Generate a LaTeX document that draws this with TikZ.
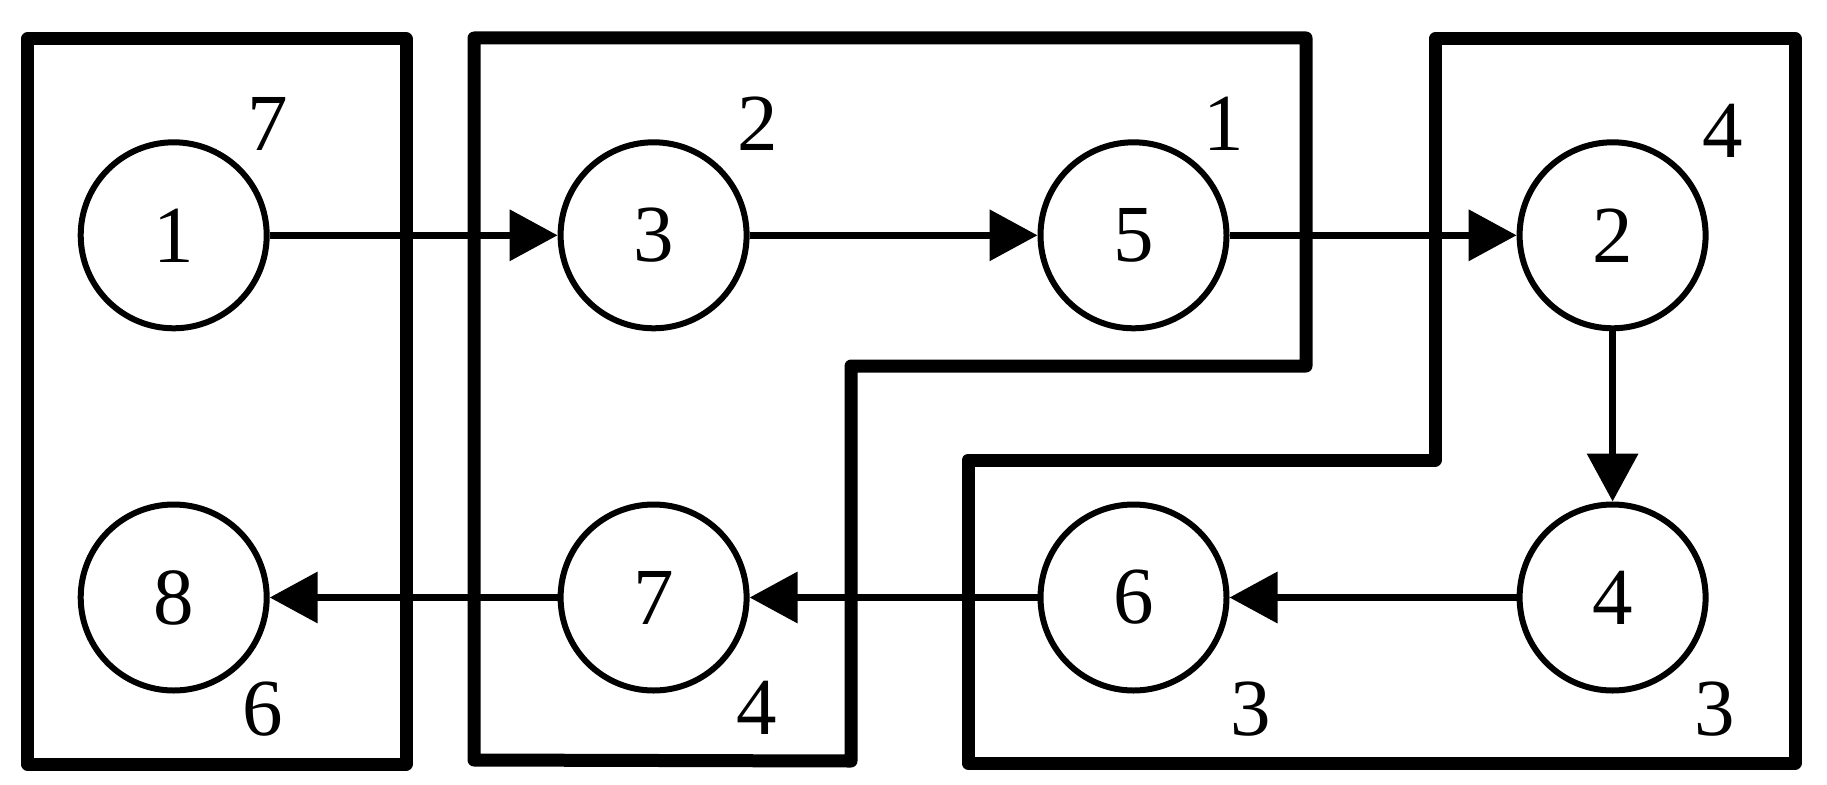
\documentclass[tikz,border=0pt]{standalone}
\usepackage{fontspec}
\setmainfont{Liberation Serif}
\newfontfamily\tnrfont{Liberation Serif}
\usetikzlibrary{arrows.meta}
\begin{document}
\begin{tikzpicture}[x=1pt,y=-1pt,
  vtx/.style={circle,draw,line width=6pt,minimum size=186pt,inner sep=0pt,font=\tnrfont\fontsize{81}{90}\selectfont},
  wt/.style={anchor=base,inner sep=0pt,font=\tnrfont\fontsize{81}{90}\selectfont},
  grp/.style={line width=13pt,line join=round,line cap=round},
  edge/.style={line width=7pt,-{Triangle[length=48pt,width=50pt]}}]
\useasboundingbox (0,0) rectangle (1827,784);
% group outlines
\draw[grp] (27.5,39) -- (406,39) -- (406,764) -- (27.5,764) -- cycle;
\draw[grp] (474,38) -- (1306,38) -- (1306,366) -- (851,366) -- (851,761) -- (474,760) -- cycle;
\draw[grp] (1435,39) -- (1795,39) -- (1795,763) -- (968,763) -- (968,460) -- (1435,460) -- cycle;
% vertices
\node[vtx] (n1) at (173.7,235.3) {1};
\node[vtx] (n3) at (653.6,235.3) {3};
\node[vtx] (n5) at (1133.5,235.3) {5};
\node[vtx] (n2) at (1612.6,235.3) {2};
\node[vtx] (n8) at (173.7,597.5) {8};
\node[vtx] (n7) at (653.6,597.5) {7};
\node[vtx] (n6) at (1133.5,597.5) {6};
\node[vtx] (n4) at (1612.6,597.5) {4};
% weights
\node[wt] (w1) at (267.5,150) {7};
\node[wt] (w3) at (757.5,150) {2};
\node[wt] (w5) at (1224,150) {1};
\node[wt] (w2) at (1723,157) {4};
\node[wt] (w8) at (262.5,735) {6};
\node[wt] (w7) at (757,734) {4};
\node[wt] (w6) at (1251,735) {3};
\node[wt] (w4) at (1715,735) {3};
% edges
\draw[edge] (n1) -- (n3);
\draw[edge] (n3) -- (n5);
\draw[edge] (n5) -- (n2);
\draw[edge] (n2) -- (n4);
\draw[edge] (n4) -- (n6);
\draw[edge] (n6) -- (n7);
\draw[edge] (n7) -- (n8);
\end{tikzpicture}
\end{document}
